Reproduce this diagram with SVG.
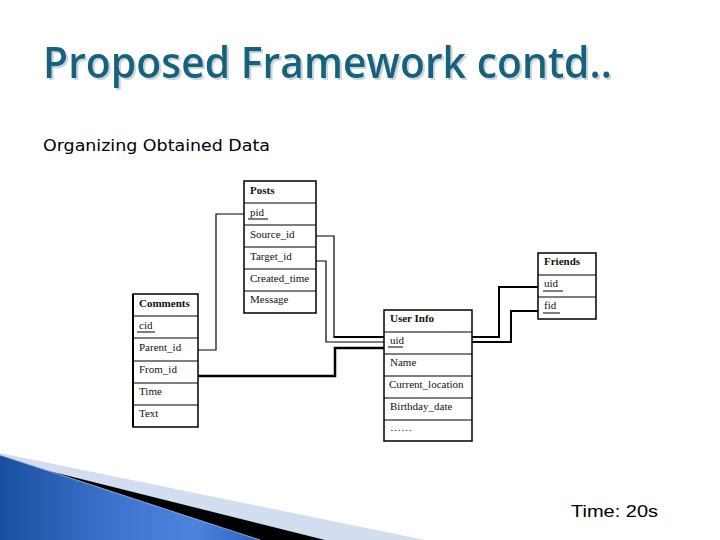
<svg xmlns="http://www.w3.org/2000/svg" width="720" height="540" viewBox="0 0 720 540">
<defs>
<style>
.box{fill:#fff;stroke:#000;stroke-width:1.5}
.sep{stroke:#000;stroke-width:1.2}
.t{font-family:"Liberation Serif","Times New Roman",serif;font-size:11px;fill:#111}
.h{font-weight:bold}
.ul{stroke:#000;stroke-width:1}
.c{fill:none;stroke:#000;stroke-linejoin:miter}
</style>
<filter id="shadow" x="-5%" y="-20%" width="110%" height="150%">
<feOffset in="SourceAlpha" dx="2" dy="2" result="o"/>
<feFlood flood-color="#c9d6de"/>
<feComposite in2="o" operator="in" result="s"/>
<feMerge><feMergeNode in="s"/><feMergeNode in="SourceGraphic"/></feMerge>
</filter>
<linearGradient id="blue" x1="0" y1="0" x2="1" y2="0">
<stop offset="0" stop-color="#1a4f9e"/>
<stop offset="0.45" stop-color="#3f74cf"/>
<stop offset="0.75" stop-color="#4d83dc"/>
<stop offset="1" stop-color="#2a62bd"/>
</linearGradient>
</defs>
<rect width="720" height="540" fill="#fff"/>

<g id="title">
<text x="43" y="78" font-family="'Open Sans','Noto Sans',sans-serif" font-weight="600" font-size="44" fill="#17627c" textLength="569" lengthAdjust="spacingAndGlyphs" filter="url(#shadow)">Proposed Framework contd..</text>
<text x="43" y="151" font-family="'DejaVu Sans',sans-serif" font-size="16" fill="#000" textLength="227" lengthAdjust="spacingAndGlyphs">Organizing Obtained Data</text>
</g>

<g id="connectors">
<path class="c" stroke-width="1.2" d="M244,214 H216 V350 H198"/>
<path class="c" stroke-width="1.2" d="M316,236 H334 V337"/>
<path class="c" stroke-width="2" d="M333.5,337 H384"/>
<path class="c" stroke-width="1.2" d="M316,261 H326 V342 H384"/>
<path class="c" stroke-width="2.5" d="M198,376 H335 V348 H384"/>
<path class="c" stroke-width="2" d="M472,337 H499 V287 H538"/>
<path class="c" stroke-width="2" d="M472,342 H511 V311 H538"/>
</g>

<g id="posts">
<rect class="box" x="244" y="181" width="72" height="132"/>
<line class="sep" x1="244" y1="203" x2="316" y2="203"/>
<line class="sep" x1="244" y1="225" x2="316" y2="225" stroke-width="2"/>
<line class="sep" x1="244" y1="247" x2="316" y2="247" stroke-width="2"/>
<line class="sep" x1="244" y1="269" x2="316" y2="269"/>
<line class="sep" x1="244" y1="291" x2="316" y2="291"/>
<text class="t h" x="250" y="194">Posts</text>
<text class="t" x="250" y="216">pid</text>
<line class="ul" x1="248" y1="219" x2="268" y2="219"/>
<text class="t" x="250" y="238">Source_id</text>
<text class="t" x="250" y="260">Target_id</text>
<text class="t" x="250" y="282">Created_time</text>
<text class="t" x="250" y="303">Message</text>
</g>

<g id="comments">
<rect class="box" x="133" y="294" width="65" height="133"/>
<line x1="133" y1="294" x2="133" y2="427" stroke="#000" stroke-width="2"/>
<line class="sep" x1="133" y1="316" x2="198" y2="316"/>
<line class="sep" x1="133" y1="338" x2="198" y2="338"/>
<line class="sep" x1="133" y1="361" x2="198" y2="361"/>
<line class="sep" x1="133" y1="383" x2="198" y2="383"/>
<line class="sep" x1="133" y1="405" x2="198" y2="405"/>
<text class="t h" x="139" y="307">Comments</text>
<text class="t" x="139" y="329">cid</text>
<line class="ul" x1="137" y1="332" x2="155" y2="332"/>
<text class="t" x="139" y="351">Parent_id</text>
<text class="t" x="139" y="373">From_id</text>
<text class="t" x="139" y="395">Time</text>
<text class="t" x="139" y="417">Text</text>
</g>

<g id="userinfo">
<rect class="box" x="384" y="310" width="88" height="131"/>
<line class="sep" x1="384" y1="332" x2="472" y2="332" stroke-width="2"/>
<line class="sep" x1="384" y1="354" x2="472" y2="354"/>
<line class="sep" x1="384" y1="376" x2="472" y2="376"/>
<line class="sep" x1="384" y1="398" x2="472" y2="398"/>
<line class="sep" x1="384" y1="420" x2="472" y2="420"/>
<text class="t h" x="390" y="322">User Info</text>
<text class="t" x="390" y="344">uid</text>
<line class="ul" x1="388" y1="347" x2="403" y2="347"/>
<text class="t" x="390" y="366">Name</text>
<text class="t" x="389" y="388">Current_location</text>
<text class="t" x="390" y="410">Birthday_date</text>
<text class="t" x="390" y="431" font-size="8">……</text>
</g>

<g id="friends">
<rect class="box" x="538" y="253" width="58" height="66"/>
<line class="sep" x1="538" y1="275" x2="596" y2="275"/>
<line class="sep" x1="538" y1="297" x2="596" y2="297"/>
<text class="t h" x="544" y="265">Friends</text>
<text class="t" x="544" y="287">uid</text>
<line class="ul" x1="543" y1="291" x2="563" y2="291"/>
<text class="t" x="544" y="309">fid</text>
<line class="ul" x1="543" y1="313" x2="560" y2="313"/>
</g>

<g id="decoration">
<polygon points="0,453 425,540 0,540" fill="#d3ddf0"/>
<polygon points="0,458.7 325,540 0,540" fill="#000"/>
<polygon points="0,455 260,540 0,540" fill="url(#blue)"/>
<line x1="0" y1="455" x2="260" y2="540" stroke="#a9c0e8" stroke-width="0.8"/>
</g>

<text x="571" y="517" font-family="'Liberation Sans Narrow','Liberation Sans',Arial,sans-serif" font-size="17" fill="#000" textLength="87" lengthAdjust="spacingAndGlyphs">Time: 20s</text>
</svg>
